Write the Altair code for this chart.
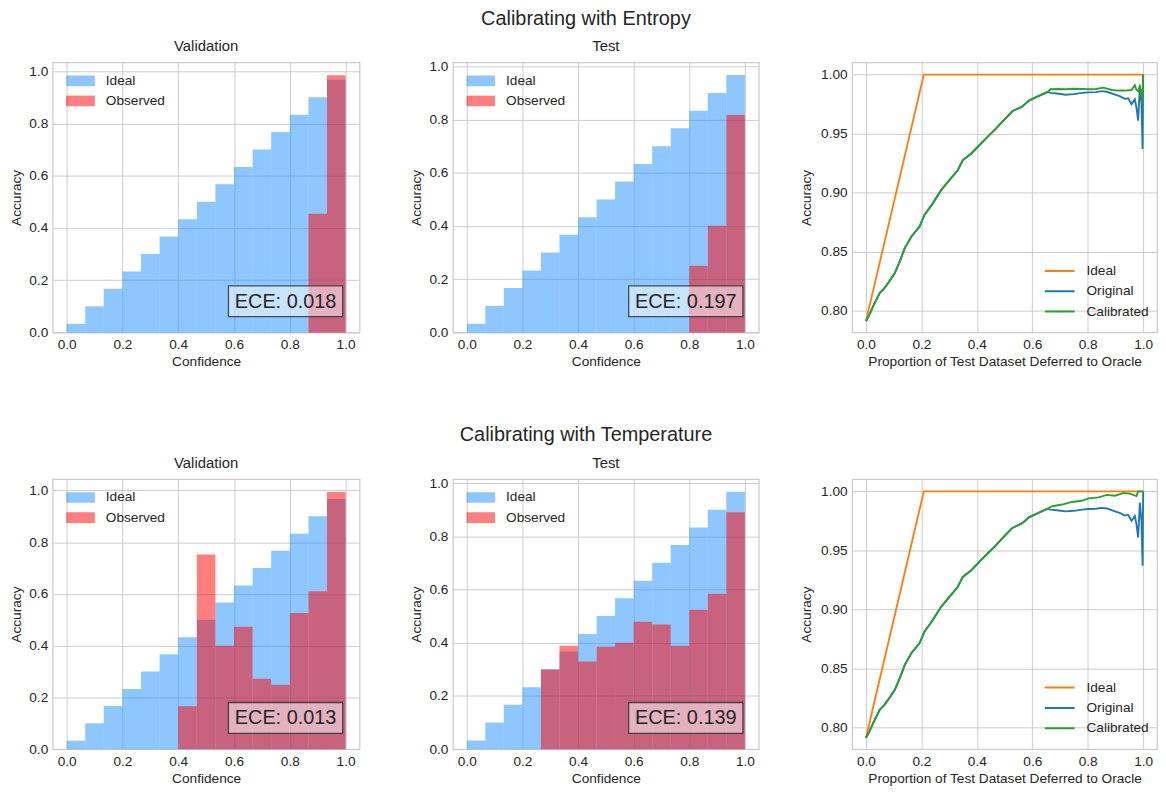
import altair as alt
import pandas as pd

# ---------------- data ----------------
bin_lo = [0.0, 0.0667, 0.1333, 0.2, 0.2667, 0.3333, 0.4, 0.4667, 0.5333, 0.6, 0.6667, 0.7333, 0.8, 0.8667, 0.9333]
bin_hi = [0.0667, 0.1333, 0.2, 0.2667, 0.3333, 0.4, 0.4667, 0.5333, 0.6, 0.6667, 0.7333, 0.8, 0.8667, 0.9333, 1.0]
ideal_acc = [0.033, 0.1, 0.167, 0.233, 0.3, 0.367, 0.433, 0.5, 0.567, 0.633, 0.7, 0.767, 0.833, 0.9, 0.967]

obs_val_entropy = [0, 0, 0, 0, 0, 0, 0, 0, 0, 0, 0, 0, 0, 0.454, 0.985]
obs_test_entropy = [0, 0, 0, 0, 0, 0, 0, 0, 0, 0, 0, 0, 0.251, 0.401, 0.817]
obs_val_temp = [0, 0, 0, 0, 0, 0, 0.166, 0.752, 0.400, 0.473, 0.272, 0.249, 0.526, 0.610, 0.994]
obs_test_temp = [0, 0, 0, 0, 0.299, 0.389, 0.329, 0.385, 0.400, 0.479, 0.468, 0.389, 0.524, 0.584, 0.890]

ece_values = ["0.018", "0.197", "0.013", "0.139"]
hist_ymax = [1.034, 1.015, 1.044, 1.015]

ideal_x = [0.0, 0.2087, 1.0]
ideal_y = [0.7913, 1.0, 1.0]

head_x = [0.0, 0.013, 0.026, 0.05, 0.066, 0.08, 0.104, 0.122, 0.14, 0.164, 0.193, 0.211, 0.241,
          0.271, 0.301, 0.331, 0.349, 0.379, 0.408, 0.444, 0.468, 0.493, 0.528, 0.564, 0.588, 0.624, 0.654]
head_y = [0.7913, 0.797, 0.804, 0.8152, 0.819, 0.8236, 0.832, 0.8419, 0.8531, 0.863, 0.8713, 0.8812, 0.891,
          0.9022, 0.9107, 0.919, 0.9275, 0.933, 0.940, 0.9486, 0.954, 0.9605, 0.969, 0.973, 0.978, 0.982, 0.9852]

orig_tail_x = [0.666, 0.696, 0.72, 0.75, 0.779, 0.803, 0.83, 0.851, 0.869, 0.899, 0.917, 0.934, 0.946,
               0.958, 0.97, 0.976, 0.982, 0.988, 0.994, 0.998, 1.0]
orig_tail_y = [0.9845, 0.9838, 0.983, 0.9835, 0.9845, 0.985, 0.9852, 0.986, 0.9855, 0.983, 0.9815, 0.9795, 0.980,
               0.975, 0.979, 0.972, 0.961, 0.9905, 0.975, 0.937, 1.0]

cal_entropy_tail_x = [0.666, 0.696, 0.72, 0.75, 0.779, 0.803, 0.83, 0.857, 0.887, 0.91, 0.934, 0.958, 0.97,
                      0.976, 0.982, 0.988, 0.994, 0.997, 1.0]
cal_entropy_tail_y = [0.9876, 0.9878, 0.9876, 0.988, 0.9878, 0.9876, 0.9878, 0.989, 0.987, 0.9865, 0.9865, 0.987,
                      0.991, 0.987, 0.986, 0.99, 0.984, 0.975, 1.0]

cal_temp_tail_x = [0.672, 0.708, 0.743, 0.779, 0.803, 0.839, 0.869, 0.899, 0.929, 0.952, 0.976, 0.982, 0.988, 1.0]
cal_temp_tail_y = [0.9874, 0.9888, 0.991, 0.992, 0.994, 0.9949, 0.997, 0.9963, 0.9986, 0.998, 0.996, 1.0, 1.0, 1.0]

row_titles = ["Calibrating with Entropy", "Calibrating with Temperature"]

# ---------------- styling ----------------
FONT = "Liberation Sans"
TXT = "#262626"
GRID = "#cccccc"
TICK_FS = 13.75
H = 272


def hist_panel(obs, ymax, title, ece, width, row_title=None):
    df = pd.DataFrame({
        "lo": bin_lo + bin_lo,
        "hi": bin_hi + bin_hi,
        "acc": ideal_acc + obs,
        "series": ["Ideal"] * len(ideal_acc) + ["Observed"] * len(obs),
    })
    bars = alt.Chart(df).mark_rect(opacity=0.5).encode(
        x=alt.X("lo:Q", scale=alt.Scale(domain=[-0.05, 1.05], nice=False, zero=False),
                axis=alt.Axis(values=[0, 0.2, 0.4, 0.6, 0.8, 1.0], format=".1f", title="Confidence",
                              titlePadding=4)),
        x2="hi:Q",
        y=alt.Y("acc:Q", scale=alt.Scale(domain=[0, ymax], nice=False, zero=False),
                axis=alt.Axis(values=[0, 0.2, 0.4, 0.6, 0.8, 1.0], format=".1f", title="Accuracy",
                              minExtent=24, maxExtent=24, titlePadding=5.5)),
        y2=alt.datum(0),
        color=alt.Color("series:N",
                        scale=alt.Scale(domain=["Ideal", "Observed"], range=["#1e90ff", "#ff0000"]),
                        legend=alt.Legend(orient="none", legendX=13.5, legendY=11.6, title=None,
                                          symbolType="M-1,-0.37L1,-0.37L1,0.37L-1,0.37Z",
                                          symbolSize=841, symbolOpacity=0.5, symbolStrokeWidth=0,
                                          labelFont=FONT, labelFontSize=TICK_FS, labelColor=TXT,
                                          labelOffset=11, clipHeight=14, rowPadding=6.3, padding=0)),
    )
    ann = pd.DataFrame({"t": ["ECE: " + ece]})
    box = alt.Chart(ann).mark_rect(fill="white", fillOpacity=0.5, stroke="#333333", strokeOpacity=0.85,
                                   strokeWidth=1.3).encode(
        x=alt.value(177), x2=alt.value(292), y=alt.value(225), y2=alt.value(256))
    txt = alt.Chart(ann).mark_text(font=FONT, fontSize=20, color=TXT, align="center",
                                   baseline="middle").encode(
        text="t:N", x=alt.value(234.5), y=alt.value(241))
    layers = [bars, box, txt]
    if row_title is None:
        # panel title ("Validation")
        return alt.layer(*layers).properties(
            width=width, height=H,
            title=alt.TitleParams(text=title, font=FONT, fontSize=15, color=TXT, fontWeight="normal",
                                  anchor="middle", offset=8, frame="group"))
    # middle panel: subplot title as text, row title as the view title
    sub = alt.Chart(pd.DataFrame({"t": [title]})).mark_text(
        font=FONT, fontSize=15, color=TXT, align="center", baseline="middle").encode(
        text="t:N", x=alt.value(width / 2), y=alt.value(-16))
    layers.append(sub)
    return alt.layer(*layers).properties(
        width=width, height=H,
        title=alt.TitleParams(text=row_title, font=FONT, fontSize=20, color=TXT, fontWeight="normal",
                              anchor="middle", frame="group", dx=-20, offset=11))


def line_panel(cal_x, cal_y, width):
    series = [
        ("Ideal", ideal_x, ideal_y),
        ("Original", head_x + orig_tail_x, head_y + orig_tail_y),
        ("Calibrated", head_x + cal_x, head_y + cal_y),
    ]
    layers = []
    for name, xs, ys in series:
        df = pd.DataFrame({"p": xs, "acc": ys, "series": [name] * len(xs)})
        layers.append(alt.Chart(df).mark_line(strokeWidth=1.9).encode(
            x=alt.X("p:Q", scale=alt.Scale(domain=[-0.05, 1.05], nice=False, zero=False),
                    axis=alt.Axis(values=[0, 0.2, 0.4, 0.6, 0.8, 1.0], format=".1f",
                                  title="Proportion of Test Dataset Deferred to Oracle", titlePadding=4)),
            y=alt.Y("acc:Q", scale=alt.Scale(domain=[0.7817, 1.0104], nice=False, zero=False),
                    axis=alt.Axis(values=[0.80, 0.85, 0.90, 0.95, 1.00], format=".2f", title="Accuracy",
                                  minExtent=32, maxExtent=32, titlePadding=7.3)),
            color=alt.Color("series:N",
                            scale=alt.Scale(domain=["Ideal", "Original", "Calibrated"],
                                            range=["#ff7f0e", "#1f77b4", "#2ca02c"]),
                            legend=alt.Legend(orient="none", legendX=193, legendY=203, title=None,
                                              symbolType="stroke", symbolSize=900, symbolStrokeWidth=2,
                                              labelFont=FONT, labelFontSize=TICK_FS, labelColor=TXT,
                                              labelOffset=11, clipHeight=14, rowPadding=6.5, padding=0)),
        ))
    return alt.layer(*layers).properties(width=width, height=H)


p1 = hist_panel(obs_val_entropy, hist_ymax[0], "Validation", ece_values[0], 309)
p2 = hist_panel(obs_test_entropy, hist_ymax[1], "Test", ece_values[1], 308, row_titles[0])
p3 = line_panel(cal_entropy_tail_x, cal_entropy_tail_y, 307)
p4 = hist_panel(obs_val_temp, hist_ymax[2], "Validation", ece_values[2], 309)
p5 = hist_panel(obs_test_temp, hist_ymax[3], "Test", ece_values[3], 308, row_titles[1])
p6 = line_panel(cal_temp_tail_x, cal_temp_tail_y, 307)

chart = alt.concat(
    p1, p2, p3, p4, p5, p6,
    columns=3,
    spacing={"row": 147.6, "column": 94},
    bounds="flush",
    padding={"top": -3, "left": 0, "right": 0, "bottom": 0},
).resolve_scale(
    x="independent", y="independent", color="independent"
).resolve_legend(
    color="independent"
).configure_view(
    stroke=GRID, strokeWidth=1.25
).configure_axis(
    grid=True, gridColor=GRID, gridWidth=1, domain=False, ticks=False,
    labelFont=FONT, titleFont=FONT, labelFontSize=TICK_FS, titleFontSize=TICK_FS,
    labelColor=TXT, titleColor=TXT, titleFontWeight="normal", labelPadding=5, labelFlush=False,
).configure_title(
    font=FONT, color=TXT
)

chart.save("out.html", embed_options={"renderer": "svg", "actions": False})
